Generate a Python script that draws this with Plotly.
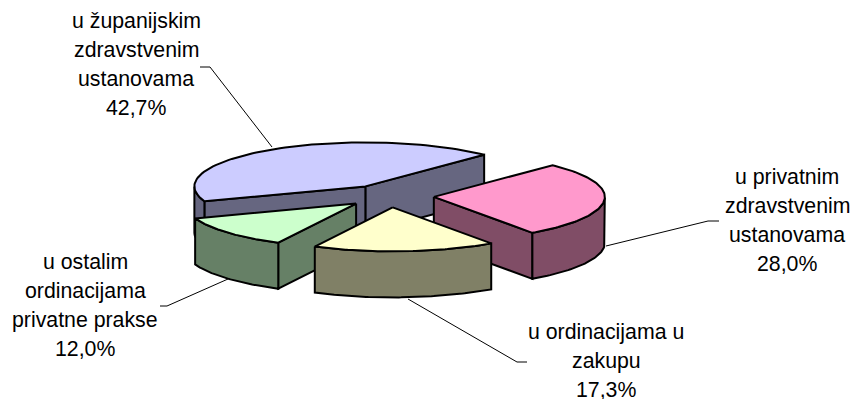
import numpy as np
import plotly.graph_objects as go

names = ["u županijskim zdravstvenim ustanovama", "u ostalim ordinacijama privatne prakse",
         "u ordinacijama u zakupu", "u privatnim zdravstvenim ustanovama"]
shares = [42.7, 12.0, 17.3, 28.0]
top_colors = ["#CCCCFF", "#CCFFCC", "#FFFFCC", "#FF99CC"]
side_colors = ["#666680", "#668066", "#808066", "#804D66"]
draw_order = [0, 3, 1, 2]

label_lines = [["u županijskim", "zdravstvenim", "ustanovama", "42,7%"],
               ["u ostalim", "ordinacijama", "privatne prakse", "12,0%"],
               ["u ordinacijama u", "zakupu", "17,3%"],
               ["u privatnim", "zdravstvenim", "ustanovama", "28,0%"]]
label_x = [136, 85, 606, 787]
label_y = [21, 262, 332, 177]
leaders = [([200, 210, 272], [67, 67, 147]),
           ([160, 167, 228], [306, 306, 279]),
           ([527, 517, 408], [362, 362, 299]),
           ([719, 708, 606], [221, 221, 246])]

# pie geometry, pixels
cx, cy = 389.5, 196
a, b, depth = 171, 44, 46
explode = 0.26
start = 46

def pt(ang, ox, oy, dy=0):
    return ox + a * np.cos(ang), oy - b * np.sin(ang) + dy

fig = go.Figure()

def poly(xs, ys, color):
    fig.add_trace(go.Scatter(x=list(xs) + [xs[0]], y=list(ys) + [ys[0]], mode="lines", fill="toself",
                             fillcolor=color, line=dict(color="black", width=2), hoverinfo="skip", showlegend=False))

def wall(ang, ox, oy, color):
    x1, y1 = pt(ang, ox, oy)
    poly([ox, x1, x1, ox], [oy, y1, y1 + depth, oy + depth], color)

for xs, ys in leaders:
    fig.add_trace(go.Scatter(x=xs, y=ys, mode="lines", line=dict(color="black", width=1),
                             hoverinfo="skip", showlegend=False))

edges = np.radians(start + np.cumsum([0] + shares) * 3.6)
for i in draw_order:
    t1, t2 = edges[i], edges[i + 1]
    mid = (t1 + t2) / 2
    ox = cx + explode * a * np.cos(mid)
    oy = cy - explode * b * np.sin(mid)
    if np.sin(t1 - np.pi / 2) < 0:
        wall(t1, ox, oy, side_colors[i])
    if np.sin(t2 + np.pi / 2) < 0:
        wall(t2, ox, oy, side_colors[i])
    angs = np.linspace(t1, t2, 80)
    front = angs[np.sin(angs) < 0]
    if len(front):
        xs, ys = pt(front, ox, oy)
        poly(np.r_[xs, xs[::-1]], np.r_[ys, ys[::-1] + depth], side_colors[i])
    xs, ys = pt(angs, ox, oy)
    poly(np.r_[ox, xs], np.r_[oy, ys], top_colors[i])

for lines, lx, ly in zip(label_lines, label_x, label_y):
    for k, line in enumerate(lines):
        fig.add_annotation(x=lx, y=ly + k * 29, text=line, showarrow=False, xanchor="center", yanchor="middle",
                           font=dict(family="Liberation Sans", size=21.3, color="black"))

fig.update_xaxes(range=[0, 854], visible=False)
fig.update_yaxes(range=[399, 0], visible=False)
fig.update_layout(width=854, height=399, margin=dict(l=0, r=0, t=0, b=0), plot_bgcolor="white", paper_bgcolor="white")
# page has a default 8px body margin, drop it so the figure fills the window
fig.write_html("out.html", config={"displayModeBar": False},
               post_script="document.body.style.margin='0';document.body.style.overflow='hidden';")
